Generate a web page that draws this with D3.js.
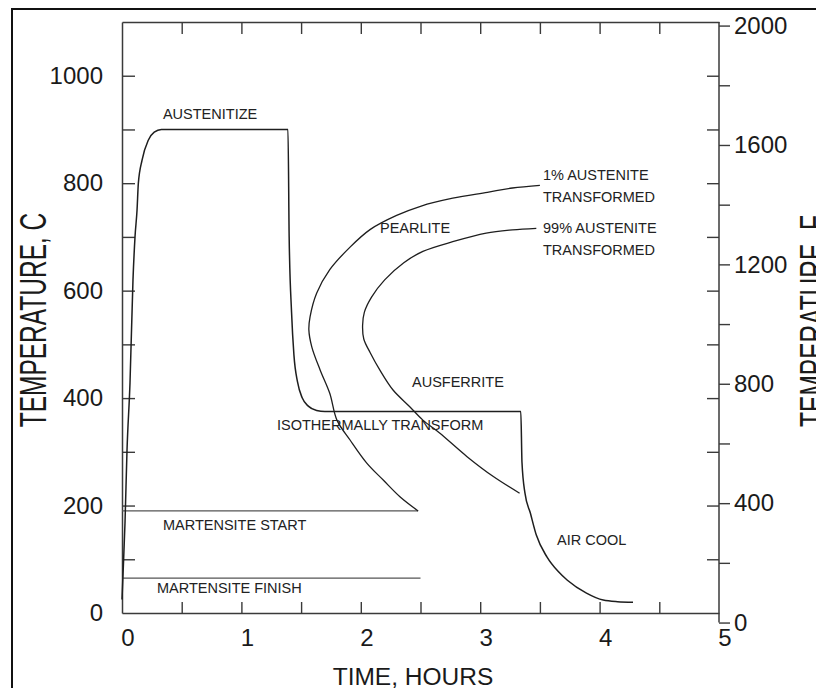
<!DOCTYPE html>
<html>
<head>
<meta charset="utf-8">
<script src="https://cdn.jsdelivr.net/npm/d3@7"></script>
<style>
  html, body { margin: 0; padding: 0; background: #fff; }
  svg { display: block; }
  text { font-family: "Liberation Sans", Arial, Helvetica, sans-serif; fill: #1a1a1a; }
</style>
</head>
<body>
<svg id="chart" width="816" height="688"></svg>
<script>
// ---- Heat-treatment schedule: time (hours) and temperature (°C) ----
const processHours = [0.00, 0.01, 0.025, 0.042, 0.067, 0.092, 0.109, 0.126, 0.137, 0.168, 0.22, 0.27, 0.33,
                      1.39, 1.40, 1.42, 1.44, 1.47, 1.51, 1.56, 1.63, 1.70,
                      3.34, 3.35, 3.375, 3.42, 3.47, 3.56, 3.65, 3.73, 3.89, 4.03, 4.15, 4.28];
const processTemps = [25, 80, 167, 303, 428, 620, 700, 750, 800, 843, 880, 895, 900,
                      900, 700, 560, 480, 430, 400, 385, 377, 375,
                      375, 280, 223, 186, 145, 104, 78, 61, 37, 24, 21, 20];

// ---- Transformation curves (1 % and 99 % austenite transformed) ----
const start1Hours = [3.50, 3.27, 3.06, 2.77, 2.50, 2.30, 2.08, 1.91, 1.74, 1.63, 1.575, 1.565, 1.59, 1.66, 1.74, 1.80, 1.91, 2.05, 2.19, 2.33, 2.48];
const start1Temps = [796, 791, 783, 772, 757, 740, 714, 681, 639, 595, 551, 527, 495, 452, 409, 359, 322, 279, 247, 216, 190];

const finish99Hours = [3.47, 3.27, 3.05, 2.77, 2.52, 2.36, 2.20, 2.09, 2.03, 2.015, 2.025, 2.08, 2.16, 2.27, 2.41, 2.52, 2.66, 2.89, 3.11, 3.33];
const finish99Temps = [716, 713, 707, 691, 673, 652, 620, 588, 560, 535, 510, 484, 452, 415, 384, 359, 335, 291, 254, 223];

// ---- Martensite lines (°C) and their extent in hours ----
const martensiteTemps = [190, 65];
const martensiteEndHours = [2.48, 2.50];

// ---- Axis ticks ----
const hourTicks = [0.5, 1, 1.5, 2, 2.5, 3, 3.5, 4, 4.5];
const hourLabels = [0, 1, 2, 3, 4, 5];
const celsiusTicks = [100, 200, 300, 400, 500, 600, 700, 800, 900, 1000];
const celsiusLabels = [0, 200, 400, 600, 800, 1000];
const fahrenheitTicks = [0, 200, 400, 600, 800, 1000, 1200, 1400, 1600, 1800, 2000];
const fahrenheitLabels = [0, 400, 800, 1200, 1600, 2000];

// ---- Region annotations (text, hours, °C at baseline start) ----
const noteText  = ["AUSTENITIZE", "PEARLITE", "1% AUSTENITE", "TRANSFORMED", "99% AUSTENITE", "TRANSFORMED",
                   "AUSFERRITE", "ISOTHERMALLY TRANSFORM", "MARTENSITE START", "MARTENSITE FINISH", "AIR COOL"];
const noteHours = [0.343, 2.161, 3.526, 3.526, 3.526, 3.526, 2.429, 1.298, 0.343, 0.293, 3.643];
const noteTemps = [919, 707, 806, 765, 707, 666, 420, 340, 154, 37, 126];

// ---------------------------------------------------------------------
const svg = d3.select("#chart");
const plotL = 122, plotR = 719, plotT = 22, plotB = 613;
const x = d3.scaleLinear().domain([0, 5]).range([plotL, plotR]);
const y = d3.scaleLinear().domain([0, 1100]).range([plotB, plotT]);
const toF = c => c * 9 / 5 + 32;
const yF = d3.scaleLinear().domain([toF(0), toF(1100)]).range([plotB, plotT]);

const axisColor = "#3a3a3a";

// outer frame
svg.append("rect")
  .attr("x", 12).attr("y", 9).attr("width", 900).attr("height", 800)
  .attr("fill", "none").attr("stroke", "#111").attr("stroke-width", 2);

function styleAxis(g) {
  g.selectAll("path.domain").attr("stroke", axisColor).attr("stroke-width", 1.5);
  g.selectAll(".tick line").attr("stroke", axisColor).attr("stroke-width", 1.4);
  g.selectAll(".tick text").attr("fill", "#1a1a1a")
    .style("font-family", '"Liberation Sans", Arial, sans-serif').style("font-size", "24px");
}

// bottom axis: inner ticks + labels
svg.append("g").attr("transform", `translate(0,${plotB})`)
  .call(d3.axisBottom(x).tickValues(hourTicks).tickSize(-11).tickSizeOuter(0).tickFormat(""))
  .call(styleAxis);
svg.append("g").attr("transform", `translate(0,${plotB})`)
  .call(d3.axisBottom(x).tickValues(hourLabels).tickSize(0).tickPadding(16).tickFormat(d3.format("d")))
  .call(g => g.select(".domain").remove())
  .call(styleAxis)
  .call(g => g.selectAll(".tick text").attr("dx", 5.5));

// top axis: inner ticks
svg.append("g").attr("transform", `translate(0,${plotT})`)
  .call(d3.axisTop(x).tickValues(hourTicks).tickSize(-12).tickSizeOuter(0).tickFormat(""))
  .call(styleAxis);

// left axis (°C)
svg.append("g").attr("transform", `translate(${plotL},0)`)
  .call(d3.axisLeft(y).tickValues(celsiusTicks).tickSize(-13).tickSizeOuter(0).tickFormat(""))
  .call(styleAxis);
svg.append("g").attr("transform", `translate(${plotL},0)`)
  .call(d3.axisLeft(y).tickValues(celsiusLabels).tickSize(0).tickPadding(19).tickFormat(d3.format("d")))
  .call(g => g.select(".domain").remove())
  .call(styleAxis);

// right axis: °C inner ticks, °F outer ticks and labels
svg.append("g").attr("transform", `translate(${plotR},0)`)
  .call(d3.axisRight(y).tickValues(celsiusTicks).tickSize(-12).tickSizeOuter(0).tickFormat(""))
  .call(g => g.select(".domain").remove())
  .call(styleAxis);
svg.append("g").attr("transform", `translate(${plotR},0)`)
  .call(d3.axisRight(yF).tickValues(fahrenheitTicks).tickSize(11).tickSizeOuter(0).tickFormat(""))
  .call(g => g.select(".domain").remove())
  .call(styleAxis);
svg.append("g").attr("transform", `translate(${plotR},0)`)
  .call(d3.axisRight(yF).tickValues(fahrenheitLabels).tickSize(0).tickPadding(15).tickFormat(d3.format("d")))
  .call(g => g.select(".domain").remove())
  .call(styleAxis);
svg.append("line")
  .attr("x1", x(5)).attr("x2", x(5)).attr("y1", y(1100)).attr("y2", yF(0))
  .attr("stroke", axisColor).attr("stroke-width", 1.5);

// axis titles
svg.append("text")
  .attr("x", 413).attr("y", 685).attr("text-anchor", "middle")
  .style("font-size", "24.5px").text("TIME, HOURS");
svg.append("text")
  .attr("transform", "translate(46,320) rotate(-90) scale(1,1.5)")
  .attr("text-anchor", "middle").style("font-size", "24.5px").text("TEMPERATURE, C");
svg.append("text")
  .attr("transform", "translate(826,321) rotate(-90) scale(1,1.5)")
  .attr("text-anchor", "middle").style("font-size", "24.5px").text("TEMPERATURE, F");

// martensite start / finish lines
svg.selectAll("line.ms")
  .data(martensiteTemps)
  .join("line").attr("class", "ms")
  .attr("x1", x(0)).attr("x2", (d, i) => x(martensiteEndHours[i]))
  .attr("y1", d => y(d)).attr("y2", d => y(d))
  .attr("stroke", "#555").attr("stroke-width", 1.2);

// transformation curves
const ttt = d3.line().x(d => x(d[0])).y(d => y(d[1])).curve(d3.curveCatmullRom.alpha(0.5));
[[start1Hours, start1Temps], [finish99Hours, finish99Temps]].forEach(([h, t]) => {
  svg.append("path")
    .attr("d", ttt(h.map((v, i) => [v, t[i]])))
    .attr("fill", "none").attr("stroke", "#1e1e1e").attr("stroke-width", 1.3);
});

// process path
const proc = d3.line().x(d => x(d[0])).y(d => y(d[1])).curve(d3.curveMonotoneX);
svg.append("path")
  .attr("d", proc(processHours.map((v, i) => [v, processTemps[i]])))
  .attr("fill", "none").attr("stroke", "#1e1e1e").attr("stroke-width", 1.5)
  .attr("stroke-linejoin", "round");

// annotations
svg.selectAll("text.note")
  .data(noteText)
  .join("text").attr("class", "note")
  .attr("x", (d, i) => x(noteHours[i]))
  .attr("y", (d, i) => y(noteTemps[i]))
  .style("font-size", "14.5px").style("fill", "#222")
  .text(d => d);
</script>
</body>
</html>
